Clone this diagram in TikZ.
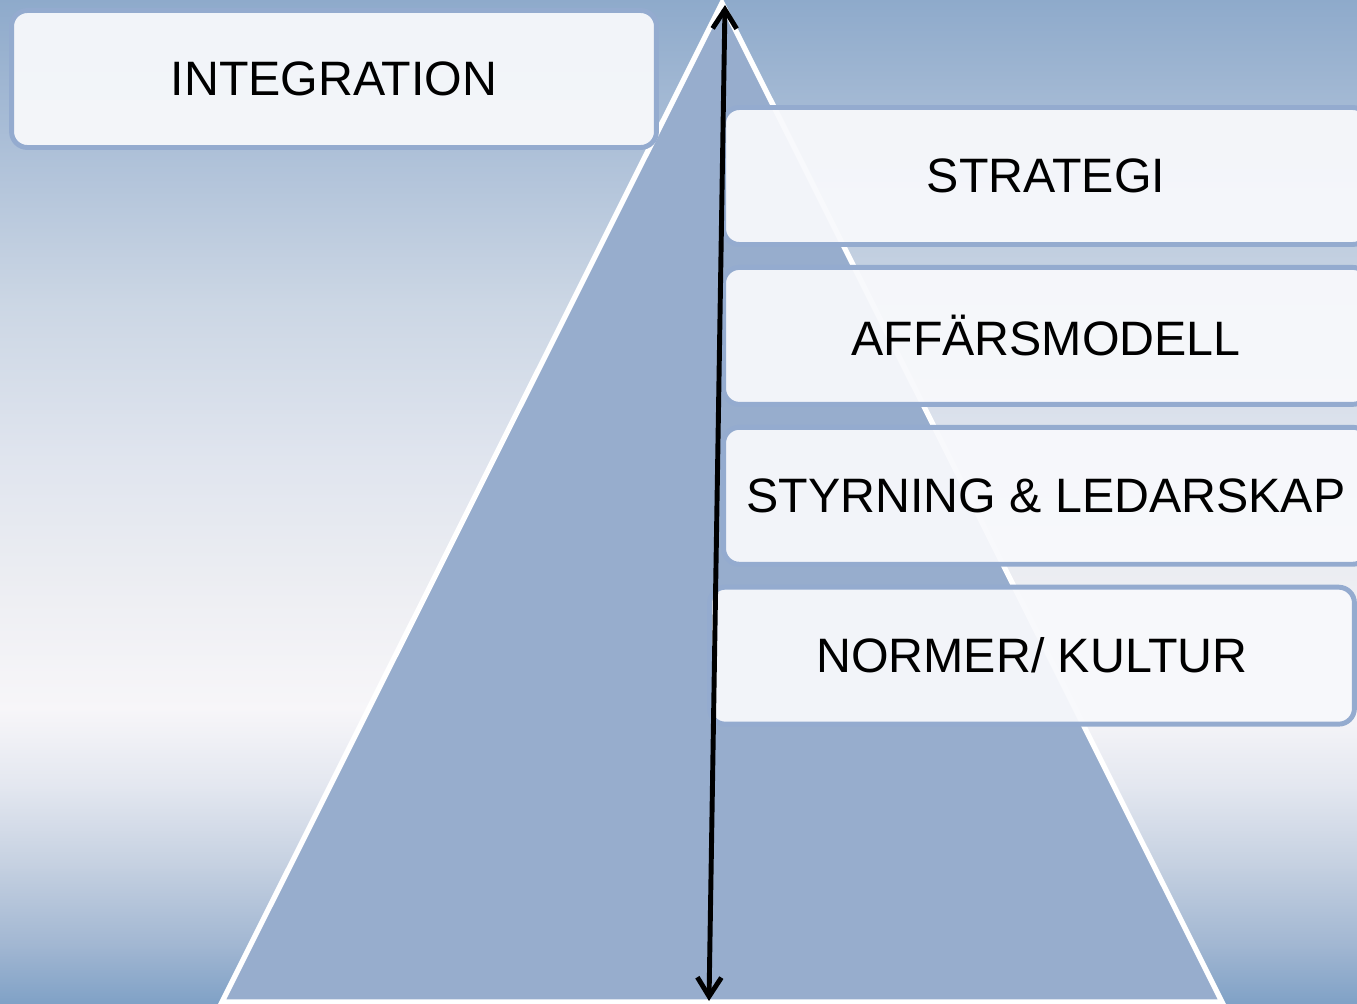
\documentclass[tikz,border=0pt]{standalone}
\usepackage{fontspec}
\setmainfont{Liberation Sans}
\usetikzlibrary{positioning, arrows.meta}

% background bands, top to bottom
\definecolor{bg0}{HTML}{8EAACB}
\definecolor{bg1}{HTML}{ADC0D8}
\definecolor{bg2}{HTML}{CBD6E4}
\definecolor{bg3}{HTML}{DFE4EE}
\definecolor{bg4}{HTML}{EEEFF3}
\definecolor{bg5}{HTML}{F7F6F9}
\definecolor{bg6}{HTML}{E2E6EF}
\definecolor{bg7}{HTML}{C3CFE0}
\definecolor{bg8}{HTML}{9FB5D1}
\definecolor{bg9}{HTML}{7FA1C6}
\definecolor{pyramid}{HTML}{97ADCD}
\definecolor{boxline}{HTML}{94ABCF}
\definecolor{boxfill}{HTML}{F8F9FC}

\begin{document}
\begin{tikzpicture}[x=0.02cm,y=-0.02cm,node distance=0.36cm,
	box/.style={draw=boxline, line width=2.8pt, fill=boxfill, fill opacity=0.94, text opacity=1, rounded corners=9pt, minimum width=12.9cm, minimum height=2.74cm, font=\fontsize{27.5}{33}\selectfont}]
		\clip (0,0) rectangle (1357,1004);

		% sky
		\foreach \ya/\yb/\ca/\cb in {0/150/bg0/bg1, 150/300/bg1/bg2, 300/450/bg2/bg3, 450/600/bg3/bg4, 600/710/bg4/bg5, 710/790/bg5/bg6, 790/870/bg6/bg7, 870/950/bg7/bg8, 950/1004/bg8/bg9}
			\shade[top color=\ca, bottom color=\cb] (0,\ya-1) rectangle (1357,\yb+1);

		% pyramid
		\coordinate (apex)		at (722,3);
		\coordinate (baseL)		at (222,1002);
		\coordinate (baseR)		at (1222,1002);
		\draw[white, line width=3pt, fill=pyramid] (apex) -- (baseL) -- (baseR) -- cycle;

		\node[box													] (INTEGRATION)	at (334,79)	{INTEGRATION};
		\node[box													] (STRATEGI)	at (1046,176)	{STRATEGI};
		\node[box, below=of STRATEGI								] (AFFARS)		{AFFÄRSMODELL};
		\node[box, below=of AFFARS									] (STYRNING)	{STYRNING \& LEDARSKAP};
		\node[box, below=of STYRNING, xshift=-0.28cm				] (NORMER)		{NORMER/ KULTUR};

		\coordinate (TOP)		at (725,5);
		\coordinate (BOTTOM)	at (709,1001);
		\draw[{Straight Barb[length=3.8mm,width=4.8mm]}-{Straight Barb[length=3.8mm,width=4.8mm]}, line width=2.8pt, line cap=round] (TOP) -- (BOTTOM);

	\end{tikzpicture}
\end{document}
